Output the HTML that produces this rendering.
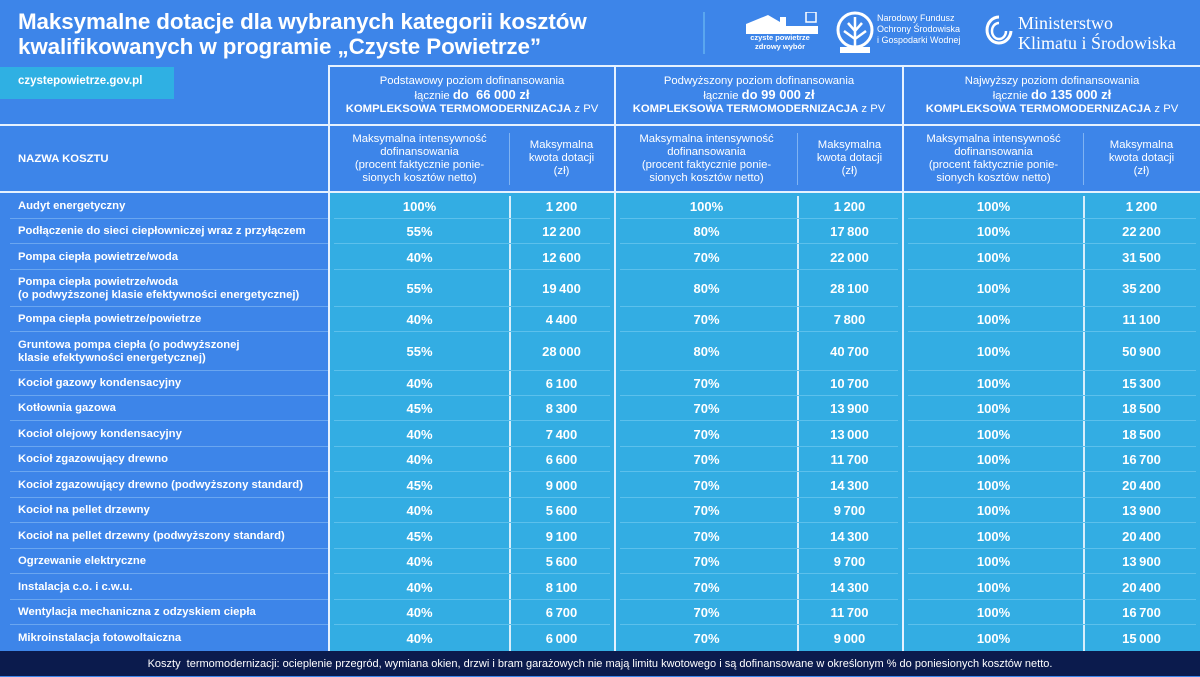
<!DOCTYPE html>
<html><head><meta charset="utf-8"><style>
*{margin:0;padding:0;box-sizing:border-box}
body{width:1200px;height:676px;overflow:hidden;background:#3d85e9;font-family:"Liberation Sans",sans-serif;color:#fff;position:relative}
.a{position:absolute}
.t{font-weight:bold;font-size:22.4px;line-height:25px;left:18px;top:9px;letter-spacing:-0.1px}
.hdr{font-size:11.3px;line-height:13px;text-align:center;display:flex;flex-direction:column;justify-content:center}
.lbl{font-size:11.3px;font-weight:bold;display:flex;align-items:center;left:18px;width:310px;line-height:13px;padding-top:2px}
.v{font-size:13px;font-weight:bold;text-align:center;display:flex;align-items:center;justify-content:center;padding-top:2px}
.cy{background:#33ade3}
</style></head><body>
<div class="a t">Maksymalne dotacje dla wybranych kategorii kosztów<br>kwalifikowanych w programie „Czyste Powietrze”</div>
<div class="a" style="left:703px;top:12px;width:2px;height:42px;background:#5aa6ef"></div>
<svg class="a" style="left:746px;top:12px" width="72" height="22"><polygon points="0,22 0,12 22,3 34,10 34,5 40,5 40,14 72,14 72,22" fill="#fff"/><rect x="60" y="0" width="10" height="10" fill="none" stroke="#fff" stroke-width="1.5"/></svg>
<div class="a" style="left:746px;top:33px;font-size:7.5px;font-weight:bold;line-height:9px;text-align:center;width:68px">czyste powietrze<br>zdrowy wybór</div>
<svg class="a" style="left:836px;top:11px" width="38" height="44"><ellipse cx="19" cy="19" rx="17" ry="17" fill="none" stroke="#fff" stroke-width="3"/><path d="M19 6 L19 36 M12 12 L19 20 L26 12 M8 20 L19 28 L30 20" stroke="#fff" stroke-width="2.5" fill="none"/><rect x="4" y="36" width="30" height="6" fill="#fff"/></svg>
<div class="a" style="left:877px;top:13px;font-size:9px;line-height:11px">Narodowy Fundusz<br>Ochrony Środowiska<br>i Gospodarki Wodnej</div>
<svg class="a" style="left:985px;top:14px" width="28" height="34"><path d="M14 3 A12 13 0 1 0 26 17" stroke="#fff" stroke-width="3" fill="none"/><path d="M14 9 A7 8 0 1 0 21 17" stroke="#fff" stroke-width="2.5" fill="none"/></svg>
<div class="a" style="left:1018px;top:13px;font-family:'Liberation Serif',serif;font-size:18px;line-height:20px">Ministerstwo<br>Klimatu i Środowiska</div>

<div class="a" style="left:0;top:67px;width:174px;height:32px;background:#2fb0e3;font-size:11.5px;font-weight:bold;padding:8px 0 0 18px">czystepowietrze.gov.pl</div>

<div class="a" style="left:0;top:124px;width:1200px;height:2px;background:#e6f2ff"></div>
<div class="a" style="left:329px;top:65px;width:871px;height:2px;background:#e6f2ff"></div>
<div class="a" style="left:0;top:191px;width:1200px;height:2px;background:#e6f2ff"></div>
<div class="a" style="left:328px;top:65px;width:2px;height:587px;background:#e6f2ff"></div>
<div class="a" style="left:614px;top:65px;width:2px;height:587px;background:#e6f2ff"></div>
<div class="a" style="left:902px;top:65px;width:2px;height:587px;background:#e6f2ff"></div>

<div class="a hdr" style="left:330px;top:67px;width:284px;height:57px">Podstawowy poziom dofinansowania<span>łącznie <b style="font-size:13px">do &nbsp;66 000 zł</b></span><span><b>KOMPLEKSOWA TERMOMODERNIZACJA</b> z PV</span></div>
<div class="a hdr" style="left:616px;top:67px;width:286px;height:57px">Podwyższony poziom dofinansowania<span>łącznie <b style="font-size:13px">do 99 000 zł</b></span><span><b>KOMPLEKSOWA TERMOMODERNIZACJA</b> z PV</span></div>
<div class="a hdr" style="left:904px;top:67px;width:296px;height:57px">Najwyższy poziom dofinansowania<span>łącznie <b style="font-size:13px">do 135 000 zł</b></span><span><b>KOMPLEKSOWA TERMOMODERNIZACJA</b> z PV</span></div>

<div class="a lbl" style="top:126px;height:65px">NAZWA KOSZTU</div>
<div id="sub"></div>
<div id="rows"></div>

<div class="a" style="left:0;top:651px;width:1200px;height:25px;background:#0b1b4d;font-size:11px;text-align:center;line-height:26px">Koszty &nbsp;termomodernizacji: ocieplenie przegród, wymiana okien, drzwi i bram garażowych nie mają limitu kwotowego i są dofinansowane w określonym % do poniesionych kosztów netto.</div>

<script>
var groups=[[330,509,614],[616,797,902],[904,1083,1200]];
var h='';
groups.forEach(function(g){
 h+='<div class="a hdr" style="left:'+g[0]+'px;top:126px;width:'+(g[1]-g[0])+'px;height:65px">Maksymalna intensywność<br>dofinansowania<br>(procent faktycznie ponie-<br>sionych kosztów netto)</div>';
 h+='<div class="a hdr" style="left:'+g[1]+'px;top:126px;width:'+(g[2]-g[1])+'px;height:65px">Maksymalna<br>kwota dotacji<br>(zł)</div>';
 h+='<div class="a" style="left:'+g[1]+'px;top:133px;width:1px;height:52px;background:#7fb3f3"></div>';
 h+='<div class="a cy" style="left:'+g[0]+'px;top:193px;width:'+(g[2]-g[0])+'px;height:458px"></div>';
 h+='<div class="a" style="left:'+g[1]+'px;top:196px;width:2px;height:455px;background:#d8eefb"></div>';
});
document.getElementById('sub').innerHTML=h;
var b=[193,218,243,269,306,331,370,395,420,446,471,497,522,548,573,599,624,651];
var R=[
["Audyt energetyczny","100%","1 200","100%","1 200","100%","1 200"],
["Podłączenie do sieci ciepłowniczej wraz z przyłączem","55%","12 200","80%","17 800","100%","22 200"],
["Pompa ciepła powietrze/woda","40%","12 600","70%","22 000","100%","31 500"],
["Pompa ciepła powietrze/woda<br>(o podwyższonej klasie efektywności energetycznej)","55%","19 400","80%","28 100","100%","35 200"],
["Pompa ciepła powietrze/powietrze","40%","4 400","70%","7 800","100%","11 100"],
["Gruntowa pompa ciepła (o podwyższonej<br>klasie efektywności energetycznej)","55%","28 000","80%","40 700","100%","50 900"],
["Kocioł gazowy kondensacyjny","40%","6 100","70%","10 700","100%","15 300"],
["Kotłownia gazowa","45%","8 300","70%","13 900","100%","18 500"],
["Kocioł olejowy kondensacyjny","40%","7 400","70%","13 000","100%","18 500"],
["Kocioł zgazowujący drewno","40%","6 600","70%","11 700","100%","16 700"],
["Kocioł zgazowujący drewno (podwyższony standard)","45%","9 000","70%","14 300","100%","20 400"],
["Kocioł na pellet drzewny","40%","5 600","70%","9 700","100%","13 900"],
["Kocioł na pellet drzewny (podwyższony standard)","45%","9 100","70%","14 300","100%","20 400"],
["Ogrzewanie elektryczne","40%","5 600","70%","9 700","100%","13 900"],
["Instalacja c.o. i c.w.u.","40%","8 100","70%","14 300","100%","20 400"],
["Wentylacja mechaniczna z odzyskiem ciepła","40%","6 700","70%","11 700","100%","16 700"],
["Mikroinstalacja fotowoltaiczna","40%","6 000","70%","9 000","100%","15 000"]];
var xs=[[330,509],[509,614],[616,797],[797,902],[904,1083],[1083,1200]];
h='';
R.forEach(function(r,i){
 var t=b[i],hh=b[i+1]-t;
 h+='<div class="a lbl" style="top:'+t+'px;height:'+hh+'px">'+r[0]+'</div>';
 for(var k=0;k<6;k++)h+='<div class="a v" style="left:'+xs[k][0]+'px;top:'+t+'px;width:'+(xs[k][1]-xs[k][0])+'px;height:'+hh+'px">'+r[k+1].replace(' ','\u2009')+'</div>';
 if(i<R.length-1){
  h+='<div class="a" style="left:10px;top:'+(b[i+1])+'px;width:318px;height:1px;background:#6aa6f0"></div>';
  [[334,610],[620,898],[908,1196]].forEach(function(s){h+='<div class="a" style="left:'+s[0]+'px;top:'+b[i+1]+'px;width:'+(s[1]-s[0])+'px;height:1px;background:#5cc0ec"></div>';});
 }
});
document.getElementById('rows').innerHTML=h;
</script>
</body></html>
